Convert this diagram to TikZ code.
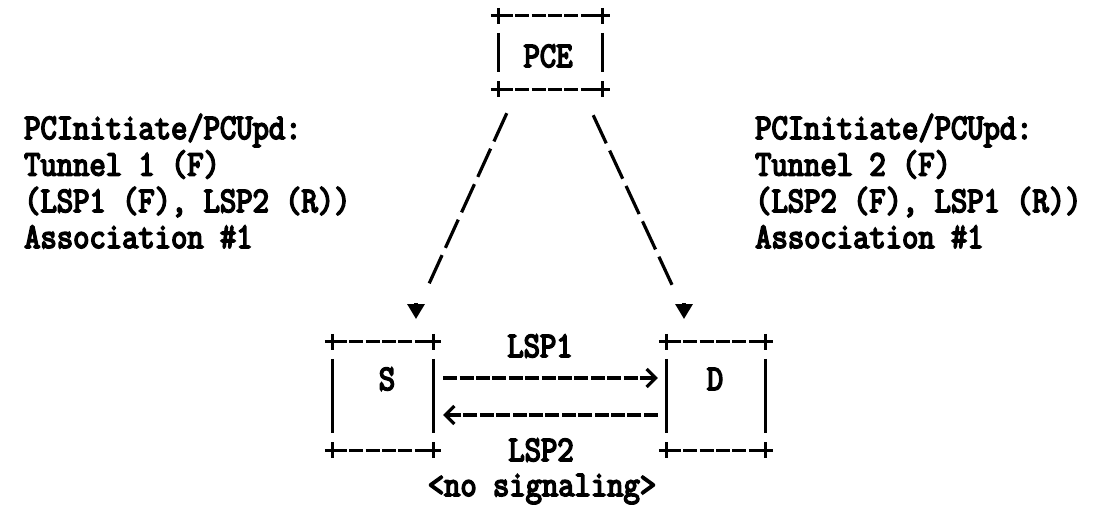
\documentclass[tikz,border=0pt]{standalone}
\usepackage{fontspec}
\newfontfamily\asciifont{Latin Modern Mono}[FakeStretch=0.88,FakeBold=4.5]
\usetikzlibrary{calc,arrows.meta}
\newcommand\asciibox[1]{%
  \draw[hdash] (#1.north west) -- (#1.north east);
  \draw[hdash] (#1.south west) -- (#1.south east);
  \draw[stroke] ($(#1.north west)+(0,17)$) -- ($(#1.south west)+(0,-17)$);
  \draw[stroke] ($(#1.north east)+(0,17)$) -- ($(#1.south east)+(0,-17)$);
  \foreach \c in {north west,north east,south west,south east}{%
    \draw[stroke] ($(#1.\c)+(-8,0)$) -- ++(16,0) ($(#1.\c)+(0,-8)$) -- ++(0,16);}%
}
\begin{document}
\begin{tikzpicture}[x=1pt,y=-1pt,
  txt/.style={font=\asciifont\fontsize{36}{36.3}\selectfont, inner sep=0pt, anchor=base},
  lft/.style={txt, anchor=base west},
  stroke/.style={line width=3.2pt},
  hdash/.style={stroke, dash pattern=on 14pt off 2.4pt},
  diag/.style={stroke, dash pattern=on 31pt off 8pt},
  vtip/.style={stroke, -{Triangle[length=15pt,width=17pt]}},
  chev/.style={hdash, -{Straight Barb[length=9pt,width=18pt]}},
  asbox/.style={inner sep=0pt, draw=none}
]
\useasboundingbox (0,0) rectangle (1094,505);

% boxes
\node[asbox, minimum width=103pt, minimum height=73pt] (PCE) at (550.5,52.5) {};
\node[asbox, minimum width=100pt, minimum height=108pt] (S) at (383,396) {};
\node[asbox, minimum width=98pt, minimum height=108pt] (D) at (716,396) {};
\asciibox{PCE}
\asciibox{S}
\asciibox{D}
\node[txt] (PCEt) at (548,67) {PCE};
\node[txt] (St) at (387,390) {S};
\node[txt] (Dt) at (715,390) {D};

% left text
\node[lft] (L1) at (24,139) {PCInitiate/PCUpd:};
\node[lft] (L2) at (24,175.5) {Tunnel 1 (F)};
\node[lft] (L3) at (24,212) {(LSP1 (F), LSP2 (R))};
\node[lft] (L4) at (24,248) {Association \#1};
% right text
\node[lft] (R1) at (755,139) {PCInitiate/PCUpd:};
\node[lft] (R2) at (755,175.5) {Tunnel 2 (F)};
\node[lft] (R3) at (755,212) {(LSP2 (F), LSP1 (R))};
\node[lft] (R4) at (755,248) {Association \#1};

% diagonal dashed connectors
\coordinate (l1) at ($(PCE.south west)+(8,24)$);
\coordinate (l2) at (428,286);
\coordinate (lv1) at (416,303);
\coordinate (lv2) at (416,319);
\coordinate (r1) at ($(PCE.south east)+(-9,26)$);
\coordinate (r2) at (673,287);
\coordinate (rv1) at (684,303);
\coordinate (rv2) at (684,319);
\draw[diag] (l1) -- (l2);
\draw[vtip] (lv1) -- (lv2);
\draw[diag] (r1) -- (r2);
\draw[vtip] (rv1) -- (rv2);

% LSP arrows
\draw[chev] ($(S.east)+(10,-18)$) -- ($(D.west)+(-9,-18)$);
\draw[chev] ($(D.west)+(-9,19)$) -- ($(S.east)+(10,19)$);
\node[txt] (lsp1) at (540,357) {LSP1};
\node[txt] (lsp2) at (541,461) {LSP2};
\node[txt] (nosig) at (542,496) {<no signaling>};
\end{tikzpicture}
\end{document}
